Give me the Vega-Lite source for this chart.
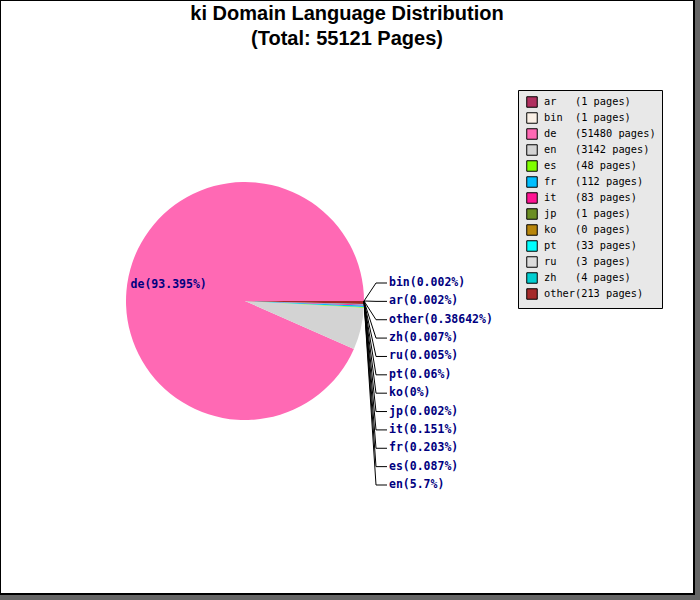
{
  "$schema": "https://vega.github.io/schema/vega-lite/v6.json",
  "width": 694,
  "height": 594,
  "autosize": "none",
  "padding": {"left": 0, "top": 0, "right": 6, "bottom": 6},
  "background": "#666666",
  "config": {
    "view": {"stroke": "black", "strokeWidth": 2, "fill": "white"}
  },
  "title": {
    "text": ["ki Domain Language Distribution", "(Total: 55121 Pages)"],
    "font": "Liberation Sans",
    "fontSize": 20,
    "fontWeight": "bold",
    "color": "black",
    "anchor": "middle",
    "frame": "group",
    "baseline": "top",
    "offset": -49,
    "lineHeight": 25
  },
  "data": {
    "values": [
      {"lang": "ar", "pages": 1, "pct": 0.002},
      {"lang": "bin", "pages": 1, "pct": 0.002},
      {"lang": "de", "pages": 51480, "pct": 93.395},
      {"lang": "en", "pages": 3142, "pct": 5.7},
      {"lang": "es", "pages": 48, "pct": 0.087},
      {"lang": "fr", "pages": 112, "pct": 0.203},
      {"lang": "it", "pages": 83, "pct": 0.151},
      {"lang": "jp", "pages": 1, "pct": 0.002},
      {"lang": "ko", "pages": 0, "pct": 0},
      {"lang": "pt", "pages": 33, "pct": 0.06},
      {"lang": "ru", "pages": 3, "pct": 0.005},
      {"lang": "zh", "pages": 4, "pct": 0.007},
      {"lang": "other", "pages": 213, "pct": 0.38642}
    ]
  },
  "transform": [
    {"window": [{"op": "row_number", "as": "rank"}]},
    {"calculate": "pad(datum.lang, 5, '\u00a0') + '(' + datum.pages + ' pages)'", "as": "entry"},
    {"calculate": "datum.lang + '(' + datum.pct + '%)'", "as": "label"}
  ],
  "layer": [
    {
      "mark": {"type": "arc", "outerRadius": 119, "x": 245, "y": 301, "strokeWidth": 0},
      "encoding": {
        "theta": {"field": "pages", "type": "quantitative", "stack": true, "scale": {"range": [1.5708, -4.7124]}},
        "order": {"field": "rank", "type": "quantitative"},
        "color": {
          "field": "entry",
          "type": "nominal",
          "sort": null,
          "scale": {"range": ["#b03060", "#faf0e6", "#ff69b4", "#d3d3d3", "#7fff00", "#00bfff", "#ff1493", "#6b8e23", "#b8860b", "#00ffff", "#dcdcdc", "#00ced1", "#a52a2a"]},
          "legend": {
            "title": null,
            "orient": "none",
            "legendX": 518,
            "legendY": 90,
            "fillColor": "#e8e8e8",
            "strokeColor": "black",
            "padding": 6,
            "labelFont": "DejaVu Sans Mono",
            "labelFontSize": 10.3,
            "labelColor": "black",
            "labelLimit": 300,
            "symbolType": "square",
            "symbolSize": 110,
            "symbolStrokeColor": "black",
            "symbolStrokeWidth": 1,
            "symbolOpacity": 1,
            "rowPadding": 0,
            "symbolOffset": 2,
            "labelOffset": 6
          }
        }
      }
    },
    {
      "mark": {"type": "text", "x": 245, "y": 301, "radius": 78, "font": "DejaVu Sans Mono", "fontWeight": "bold", "fontSize": 11.5, "color": "#000080", "align": "center", "baseline": "middle"},
      "encoding": {
        "theta": {"field": "pages", "type": "quantitative", "stack": true},
        "order": {"field": "rank", "type": "quantitative"},
        "text": {"condition": {"test": "datum.lang === 'de'", "field": "label"}, "value": ""}
      }
    },
    {
      "transform": [{"filter": "datum.lang !== 'de'"}],
      "mark": {"type": "rule", "color": "black", "strokeWidth": 1},
      "encoding": {
        "y": {"field": "lang", "type": "nominal", "scale": {"type": "point", "padding": 0, "domain": ["bin", "ar", "other", "zh", "ru", "pt", "ko", "jp", "it", "fr", "es", "en"], "range": [283, 485]}, "axis": null},
        "y2": {"value": 301},
        "x": {"value": 376},
        "x2": {"value": 364}
      }
    },
    {
      "transform": [{"filter": "datum.lang !== 'de'"}],
      "mark": {"type": "rule", "color": "black", "strokeWidth": 1},
      "encoding": {
        "y": {"field": "lang", "type": "nominal", "axis": null},
        "x": {"value": 376},
        "x2": {"value": 387}
      }
    },
    {
      "transform": [{"filter": "datum.lang !== 'de'"}],
      "mark": {"type": "text", "font": "DejaVu Sans Mono", "fontWeight": "bold", "fontSize": 11.5, "color": "#000080", "align": "left", "baseline": "middle"},
      "encoding": {
        "y": {"field": "lang", "type": "nominal", "axis": null},
        "x": {"value": 389},
        "text": {"field": "label"}
      }
    }
  ]
}
